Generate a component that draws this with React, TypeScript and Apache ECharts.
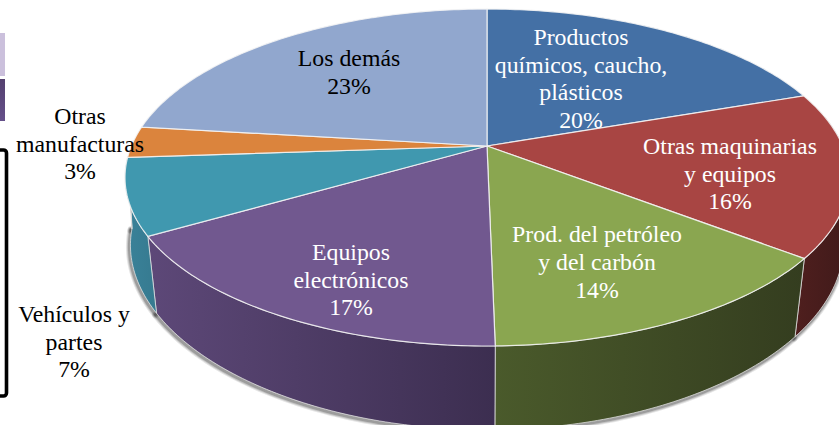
import React, { useEffect, useRef } from "react";
import * as echarts from "echarts";

const categories = [
  "Productos\nquímicos, caucho,\nplásticos",
  "Otras maquinarias\ny equipos",
  "Prod. del petróleo\ny del carbón",
  "Equipos\nelectrónicos",
  "Vehículos y\npartes",
  "Otras\nmanufacturas",
  "Los demás",
];
const shares = [19.7, 15.8, 14.2, 16.9, 7.3, 3.0, 23.1];

const topColors = ["#4470A5", "#A84543", "#8AA650", "#71588F", "#4098AF", "#DB843D", "#91A7CE"];
const wallLeft = ["#2d4a70", "#4f1f1e", "#4a5a2b", "#5d4878", "#3a8299", "#8f5526", "#5c6e8c"];
const wallRight = ["#2d4a70", "#401a1a", "#343d1f", "#3c2e50", "#367a90", "#8f5526", "#5c6e8c"];
const labelColors = ["#fff", "#fff", "#fff", "#fff", "#000", "#000", "#000"];
const labelCenters: [number, number][] = [
  [581, 78.5], [730, 173.5], [597, 262], [351, 279.5], [74, 341.5], [80, 143.5], [349, 72],
];

// Perspective of the disc: a circle seen through a homography
const PIE = { cx: 487, cy: 146, a: 355.6, b: 162.6, k: 0.187 };
const BASE = { scaleSide: 0.99, scaleSlope: 0.028, y0: 217, b: 173 };
const FRONT = { from: 0.22, to: 0.74 };

const project = (turn: number) => {
  const phi = turn * 2 * Math.PI;
  const s = Math.sin(phi);
  const c = Math.cos(phi);
  const den = 1 + PIE.k * c;
  const u = -c / den;
  const dx = (PIE.a * s) / den;
  const scale = BASE.scaleSide - BASE.scaleSlope * Math.max(0, u);
  return {
    top: [PIE.cx + dx, PIE.cy + PIE.b * u] as [number, number],
    bottom: [PIE.cx + dx * scale, BASE.y0 + BASE.b * u] as [number, number],
  };
};

const total = shares.reduce((a, b) => a + b, 0);
const startOf = (i: number) => shares.slice(0, i).reduce((a, b) => a + b, 0) / total;

const sampleRange = (from: number, to: number) => {
  const n = Math.max(6, Math.round((to - from) * 400));
  const pts = [];
  for (let j = 0; j <= n; j++) pts.push(project(from + ((to - from) * j) / n));
  return pts;
};

const renderShadow = (params: any) => {
  const i = params.dataIndex;
  const from = Math.max(startOf(i), FRONT.from);
  const to = Math.min(startOf(i) + shares[i] / total, FRONT.to);
  if (from >= to) return null;
  const pts = sampleRange(from, to).map((p) => p.bottom);
  const layer = (width: number, alpha: number) => ({
    type: "polyline",
    x: -1,
    y: 1.5,
    shape: { points: pts },
    style: { fill: "none", stroke: `rgba(0,0,0,${alpha})`, lineWidth: width, lineCap: "round" },
  });
  return { type: "group", children: [layer(7, 0.1), layer(5, 0.14), layer(3, 0.2)] };
};

const renderWall = (params: any) => {
  const i = params.dataIndex;
  const from = Math.max(startOf(i), FRONT.from);
  const to = Math.min(startOf(i) + shares[i] / total, FRONT.to);
  if (from >= to) return null;
  const pts = sampleRange(from, to);
  return {
    type: "polygon",
    shape: { points: [...pts.map((p) => p.top), ...pts.map((p) => p.bottom).reverse()] },
    style: {
      fill: new echarts.graphic.LinearGradient(0, 0, 1, 0, [
        { offset: 0, color: wallLeft[i] },
        { offset: 1, color: wallRight[i] },
      ]),
      stroke: "rgba(225,225,225,0.75)",
      lineWidth: 1,
    },
  };
};

const renderTop = (params: any) => {
  const i = params.dataIndex;
  const pts = sampleRange(startOf(i), startOf(i) + shares[i] / total);
  return {
    type: "group",
    children: [
      {
        type: "polygon",
        shape: { points: [[PIE.cx, PIE.cy], ...pts.map((p) => p.top)] },
        style: { fill: topColors[i], stroke: "rgba(245,245,245,0.85)", lineWidth: 1.2 },
      },
      {
        type: "text",
        x: labelCenters[i][0],
        y: labelCenters[i][1],
        style: {
          text: `${categories[i]}\n${Math.round(shares[i])}%`,
          fill: labelColors[i],
          font: '23.8px "Liberation Serif"',
          lineHeight: 27.8,
          align: "center",
          verticalAlign: "middle",
        },
      },
    ],
  };
};

export default function App() {
  const ref = useRef<HTMLDivElement>(null);
  useEffect(() => {
    document.body.style.margin = "0";
    const chart = echarts.init(ref.current!, undefined, { renderer: "svg" });
    const data = shares.map((value, i) => ({ name: categories[i], value }));
    chart.setOption({
      animation: false,
      backgroundColor: "#fff",
      graphic: [
        { type: "rect", shape: { x: -4, y: 33, width: 9, height: 43 }, style: { fill: "#CBC0DC" } },
        {
          type: "rect",
          shape: { x: -4, y: 79, width: 9, height: 42 },
          style: {
            fill: new echarts.graphic.LinearGradient(0, 0, 0, 1, [
              { offset: 0, color: "#54406f" },
              { offset: 1, color: "#65508a" },
            ]),
          },
        },
        {
          type: "rect",
          shape: { x: -20, y: 150, width: 26.5, height: 246, r: 3 },
          style: { fill: "none", stroke: "#000", lineWidth: 3.6 },
        },
      ],
      series: [
        { type: "custom", coordinateSystem: "none", renderItem: renderShadow, data, silent: true, clip: false },
        { type: "custom", coordinateSystem: "none", renderItem: renderWall, data, silent: true, clip: false },
        { type: "custom", coordinateSystem: "none", renderItem: renderTop, data, silent: true, clip: false },
      ],
    });
    return () => chart.dispose();
  }, []);
  return <div ref={ref} style={{ width: 839, height: 425, overflow: "hidden" }} />;
}
